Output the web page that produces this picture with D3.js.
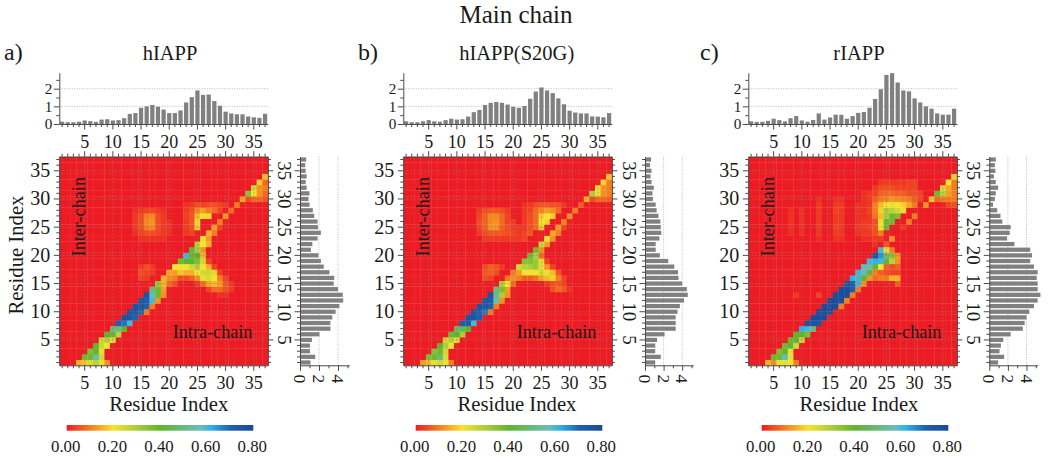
<!DOCTYPE html>
<meta charset="utf-8">
<head>
<script src="https://cdnjs.cloudflare.com/ajax/libs/d3/7.8.5/d3.min.js"></script>
<style type="text/css">
html, body { margin: 0; padding: 0; background: #fff; }
svg { display: block; }
text { font-family: "Liberation Serif", serif; fill: #1a1a1a; }
.tick line, .domain { stroke: #4a4a4a; stroke-width: 1; }
</style>
</head>
<body>
<div id="svg-div"></div>
<script>

var panelNames = ["hIAPP", "hIAPP(S20G)", "rIAPP"];
var panelLetters = ["a)", "b)", "c)"];
var legendTicks = [0, 0.2, 0.4, 0.6, 0.8];
var colorValues = [0, 0.1, 0.2, 0.3, 0.4, 0.5, 0.57, 0.62, 0.7, 0.8];
var colorHexes = ["#ec1c24", "#f47d20", "#f6e32e", "#a9cd3b", "#62b32c", "#6cb87e", "#6dbdb4", "#2fb1e8", "#1f62ac", "#1b4896"];

// bars above each map, residue 1..37
var topA = [.13,.1,.1,.13,.2,.16,.12,.25,.27,.2,.22,.33,.57,.62,.92,1,1.08,.98,.82,.62,.62,.77,1.22,1.52,1.9,1.65,1.67,1.3,1.03,.7,.6,.55,.55,.43,.38,.35,.58];
var topB = [.15,.1,.1,.15,.22,.15,.13,.22,.3,.25,.27,.42,.67,.8,1.08,1.2,1.25,1.2,1.1,.98,.92,1.02,1.43,1.84,2.07,1.9,1.75,1.45,1.12,.75,.65,.6,.6,.43,.42,.38,.62];
var topC = [.15,.12,.13,.18,.3,.22,.15,.33,.45,.2,.13,.23,.6,.25,.37,.53,.52,.3,.45,.63,.68,.92,1.42,1.97,2.78,2.88,2.35,1.9,1.85,1.45,1.22,1,.87,.6,.53,.53,.87];

// bars right of each map, residue 1..37
var sideA = [1.1,1.6,1.05,1.05,1.25,2.05,3.2,3.2,3.4,3.75,4.15,4.55,4.5,4,3.55,3.6,3.1,2.5,2.2,1.95,1.15,1.3,1.85,2.2,1.9,1.85,1.5,1.35,1,.9,1,.7,.6,.7,.6,.55,.65];
var sideB = [1.1,1.7,1.1,1.1,1.3,2.1,3.3,3.3,3.3,3.5,3.75,4.2,4.6,4.5,4,3.6,3.55,3.15,2.5,1.6,1.15,1.15,1.55,1.75,1.7,1.65,1.45,1.25,1.15,.85,.8,.95,.7,.6,.7,.55,.65];
var sideC = [.95,1.6,1.1,1.25,1.5,2.3,3.6,3.8,4,4.3,4.8,5.2,5.5,5.2,5.2,5.1,5.2,4.8,4.4,4.6,4.4,2.7,1.9,2.2,2.3,1.4,1.2,.85,.4,.6,.7,.95,.7,.5,.65,.6,.7];

// map cells as [row, first column, values]; anything not listed stays 0
var cellsA = [
  [1,4,[.15,.17,.24,.28,.22,.12]], [2,5,[.38,.38,.55,.25]], [3,6,[.36,.4,.22]], [4,7,[.4,.25,.2]],
  [5,8,[.25,.28,.22]], [6,9,[.4,.42,.28]], [7,10,[.5,.5,.4]], [8,11,[.7,.68,.6]], [9,12,[.75,.75,.7]],
  [10,13,[.75,.75,.7,.1]], [11,14,[.75,.75,.7,.1]], [12,15,[.75,.72,.6,.12]], [13,16,[.75,.58,.38,.12]],
  [13,29,[.02,.02]], [14,17,[.5,.38,.13]], [14,27,[.04,.08,.08,.05,.03]], [15,18,[.33,.15,.08,.05]],
  [15,25,[.03,.08,.14,.16,.13,.06,.03]], [16,15,[.04,.03]], [16,19,[.15,.12,.1,.05,.05,.07,.12,.22,.24,.2,.1,.04]],
  [17,15,[.05,.04,.03]], [17,20,[.14,.13,.17,.15,.15,.2,.25,.25,.18,.04]], [18,15,[.03,.05,.03]],
  [18,21,[.2,.2,.2,.25,.28,.2,.15,.04]], [19,22,[.38,.4,.4,.35,.25,.04]], [20,23,[.6,.42,.4,.15]],
  [21,24,[.42,.3,.12]], [22,25,[.28,.2,.15]], [23,15,[.02,.02,.02,.02,.02]], [23,26,[.22,.13]],
  [24,14,[.02,.04,.05,.05,.04,.03,.02]], [24,23,[.03,.04]], [24,27,[.15,.1]],
  [25,14,[.03,.05,.1,.11,.05,.03,.02]], [25,23,[.03,.05,.18]], [25,28,[.13,.04]],
  [26,14,[.03,.05,.11,.12,.05,.03,.02]], [26,23,[.03,.06,.19]], [26,29,[.1]],
  [27,14,[.03,.05,.1,.11,.05,.03]], [27,23,[.04,.06,.16,.21,.19]], [27,30,[.13]],
  [28,14,[.02,.03,.04,.04,.03,.02]], [28,23,[.03,.05,.11,.13,.1,.08,.04]], [28,31,[.08]],
  [29,23,[.02,.03,.05,.04,.05,.05,.04,.03]], [29,32,[.1]], [30,33,[.14,.05,.08,.08,.06]],
  [31,34,[.35,.2,.12,.08]], [32,35,[.25,.12,.1]], [33,36,[.18,.08]], [34,37,[.16]]
];
var cellsB = [
  [1,4,[.13,.16,.22,.25,.22,.1]], [2,5,[.36,.38,.5,.24]], [3,6,[.35,.38,.25]], [4,7,[.4,.3,.2]],
  [5,8,[.25,.28,.22]], [6,9,[.38,.4,.3]], [7,10,[.48,.45,.4]], [8,11,[.72,.72,.6]], [9,12,[.75,.75,.7]],
  [10,13,[.75,.72,.68,.1]], [11,14,[.75,.75,.7,.1]], [12,15,[.75,.72,.55,.12]], [13,16,[.75,.52,.3,.12]],
  [14,17,[.5,.36,.13]], [14,27,[.05,.08,.06,.02]], [15,18,[.3,.2,.08]], [15,26,[.03,.05,.06,.04]],
  [16,15,[.05,.04]], [16,19,[.1,.12,.1,.07,.07,.09,.14,.16,.18,.1,.04]], [17,15,[.06,.07,.05]],
  [17,20,[.1,.13,.2,.2,.2,.24,.22,.16,.06]], [18,15,[.05,.07,.06,.03]], [18,21,[.25,.28,.3,.32,.22,.12,.04]],
  [19,22,[.35,.35,.32,.22,.04]], [20,23,[.38,.3,.08]], [21,24,[.38,.12]], [22,25,[.26,.13]],
  [23,15,[.03,.03,.03,.03,.03,.03,.03,.04]], [23,26,[.22,.12]], [24,14,[.03,.05,.06,.06,.06,.05,.04,.03,.04,.06]],
  [24,27,[.14,.1]], [25,14,[.04,.07,.12,.12,.07,.05,.03,.03,.03,.05,.08,.18]], [25,28,[.13,.04]],
  [26,14,[.05,.07,.11,.12,.08,.04,.03]], [26,22,[.03,.05,.08,.2,.18]], [26,29,[.1]],
  [27,14,[.04,.07,.11,.11,.08,.04]], [27,22,[.03,.05,.08,.18,.2,.18]], [27,30,[.12]],
  [28,14,[.03,.05,.06,.06,.05,.03]], [28,22,[.03,.04,.08,.11,.13,.12,.08]], [28,31,[.1]],
  [29,22,[.02,.03,.05,.06,.06,.05,.05,.03]], [29,32,[.07]], [30,33,[.15,.05,.08,.08,.07]],
  [31,34,[.3,.22,.12,.1]], [32,35,[.22,.12,.1]], [33,36,[.18,.1]], [34,37,[.17]]
];
var cellsC = [
  [1,4,[.15,.12,.22,.22,.2,.1]], [2,5,[.38,.38,.58,.22]], [3,6,[.36,.4,.22]], [4,7,[.38,.42,.25]],
  [5,8,[.38,.42,.25]], [6,9,[.4,.4,.36]], [7,10,[.62,.6,.5]], [8,11,[.75,.75,.75]], [9,12,[.78,.78,.78]],
  [10,13,[.78,.78,.78]], [11,14,[.78,.78,.78,.1]], [12,15,[.78,.78,.78,.1]], [13,9,[.03]], [13,13,[.04]],
  [13,16,[.78,.78,.78,.1]], [14,17,[.78,.78,.72,.1]], [15,18,[.75,.72,.6,.12]], [15,27,[.07]],
  [16,19,[.62,.6,.42,.12,.08,.1,.1,.15,.15]], [17,20,[.6,.58,.42,.1,.07,.05,.04,.04]],
  [18,21,[.58,.55,.42,.2,.07,.05,.07]], [19,22,[.6,.62,.6,.42,.28,.12]], [20,23,[.75,.65,.5,.35,.12]],
  [21,24,[.6,.22,.1]], [22,23,[.02]], [22,25,[.06]], [23,13,[.02]], [23,16,[.02,.02]],
  [23,21,[.02,.02,.03,.03]], [23,26,[.12]],
  [24,8,[.02]], [24,10,[.02]], [24,13,[.03]], [24,16,[.03,.03]], [24,20,[.02,.03,.03,.05,.1]],
  [25,8,[.02]], [25,10,[.02]], [25,13,[.03]], [25,16,[.04,.03]], [25,20,[.03,.03,.04,.06,.2,.38]], [25,28,[.03]],
  [26,8,[.02]], [26,10,[.02]], [26,13,[.03]], [26,16,[.03,.03]], [26,20,[.02,.03,.03,.05,.22,.38,.38]], [26,29,[.1]],
  [27,8,[.02]], [27,10,[.02]], [27,13,[.03]], [27,16,[.03,.03]], [27,20,[.02,.02,.03,.09,.16,.3,.38,.36]], [27,30,[.1]],
  [28,8,[.02]], [28,10,[.02]], [28,13,[.03]], [28,16,[.04,.03]], [28,20,[.02,.02,.04,.1,.18,.3,.28,.25,.22]],
  [29,13,[.03]], [29,16,[.03,.03]], [29,20,[.02,.02,.03,.1,.16,.2,.22,.2,.18,.14,.1]], [29,32,[.12]], [29,36,[.04,.05]],
  [30,13,[.02]], [30,16,[.02,.02]], [30,21,[.02,.03,.07,.1,.11,.13,.12,.11,.1,.07,.04]], [30,33,[.17,.08,.1,.1,.1]],
  [31,21,[.02,.03,.04,.07,.08,.08,.07,.07,.05,.05,.04]], [31,34,[.38,.28,.13,.1]],
  [32,23,[.03,.05,.05,.05,.04,.04,.04,.04]], [32,35,[.24,.14,.1]],
  [33,24,[.03,.03,.03,.03,.03,.04,.04]], [33,36,[.2,.1]], [34,37,[.18]]
];

var topValues = [topA, topB, topC];
var sideValues = [sideA, sideB, sideC];
var cellValues = [cellsA, cellsB, cellsC];

// layout, one entry per panel
var heatLeft = [59.3, 403.3, 748.3];
var sideLeft = [300, 645, 989.3];
var sideUnit = [9.5, 9.3, 9.3];
var legendLeft = [66.7, 415.7, 761.7];
var xLabelMid = [168.8, 517, 859];
var titleMid = [170, 516.7, 859];
var letterLeft = [4, 358, 700];

var heatTop = 156.7, heatSize = 208.6, heatBottom = heatTop + heatSize;
var barZero = 124, barUnit = 17.65;

var residues = d3.range(1, 38);

var color = d3.scaleLinear().domain(colorValues).range(colorHexes).clamp(true);

var svg = d3.select("#svg-div").append("svg")
    .attr("width", 1050)
    .attr("height", 462);

var defs = svg.append("defs");
var grad = defs.append("linearGradient").attr("id", "legend-grad");
colorValues.forEach(function(v, i) {
  grad.append("stop").attr("offset", v / 0.8).attr("stop-color", colorHexes[i]);
});

svg.append("text")
    .attr("x", 516).attr("y", 22.7)
    .attr("text-anchor", "middle")
    .style("font-size", "25px")
    .text("Main chain");

svg.append("text")
    .attr("transform", "translate(23,255) rotate(-90)")
    .attr("text-anchor", "middle")
    .style("font-size", "20.7px")
    .text("Residue Index");

panelNames.forEach(function(name, p) { drawPanel(name, p); });

function isMajor(d) { return d % 5 == 0; }

// longer ticks on multiples of five, sign says which way they point
function sizeTicks(axisG, attr, sign) {
  axisG.selectAll(".tick line")
      .attr(attr, function(d) { return sign * (isMajor(d) ? 5.5 : 3); });
}

function drawPanel(name, p) {
  var left = heatLeft[p];

  var x = d3.scaleBand().domain(residues).range([left, left + heatSize]);
  var y = d3.scaleBand().domain(residues).range([heatBottom, heatTop]);

  var cells = [];
  residues.forEach(function(r) {
    residues.forEach(function(c) { cells.push({row: r, col: c, v: 0}); });
  });
  cellValues[p].forEach(function(run) {
    run[2].forEach(function(v, k) {
      cells[(run[0] - 1) * 37 + run[1] - 1 + k].v = v;
    });
  });

  svg.append("text")
      .attr("x", letterLeft[p]).attr("y", 60)
      .style("font-size", "24px")
      .text(panelLetters[p]);

  svg.append("text")
      .attr("x", titleMid[p]).attr("y", 60)
      .attr("text-anchor", "middle")
      .style("font-size", "20.5px")
      .text(name);

  // heat map, the soft filter is there because the cells are not crisp in the original
  svg.append("g")
      .style("filter", "blur(0.5px)")
      .selectAll("rect")
      .data(cells)
      .enter().append("rect")
      .attr("x", function(d) { return x(d.col); })
      .attr("y", function(d) { return y(d.row); })
      .attr("width", x.bandwidth() + 0.3)
      .attr("height", y.bandwidth() + 0.3)
      .attr("fill", function(d) { return color(d.v); });

  var majors = residues.filter(isMajor);
  var mid = x.bandwidth() / 2;

  svg.append("g").selectAll("line")
      .data(majors)
      .enter().append("line")
      .attr("x1", function(d) { return x(d) + mid; })
      .attr("x2", function(d) { return x(d) + mid; })
      .attr("y1", heatTop).attr("y2", heatBottom)
      .attr("stroke", "#9a7a6a").attr("stroke-opacity", 0.7).attr("stroke-dasharray", "1.5,2");
  svg.append("g").selectAll("line")
      .data(majors)
      .enter().append("line")
      .attr("x1", left).attr("x2", left + heatSize)
      .attr("y1", function(d) { return y(d) + mid; })
      .attr("y2", function(d) { return y(d) + mid; })
      .attr("stroke", "#9a7a6a").attr("stroke-opacity", 0.7).attr("stroke-dasharray", "1.5,2");

  // axes on all four sides of the map
  var labelFive = function(d) { return isMajor(d) ? d : ""; };

  var bottomAxis = svg.append("g")
      .attr("transform", "translate(0," + heatBottom + ")")
      .call(d3.axisBottom(x).tickFormat(labelFive).tickSizeOuter(0));
  sizeTicks(bottomAxis, "y2", 1);
  bottomAxis.selectAll("text").attr("y", 24).attr("dy", 0).style("font-size", "18px");

  var topAxis = svg.append("g")
      .attr("transform", "translate(0," + heatTop + ")")
      .call(d3.axisTop(x).tickFormat("").tickSizeOuter(0));
  sizeTicks(topAxis, "y2", -1);

  var leftAxis = svg.append("g")
      .attr("transform", "translate(" + left + ",0)")
      .call(d3.axisLeft(y).tickFormat(labelFive).tickSizeOuter(0));
  sizeTicks(leftAxis, "x2", -1);
  leftAxis.selectAll("text").attr("x", -9).style("font-size", "20px");

  var rightAxis = svg.append("g")
      .attr("transform", "translate(" + (left + heatSize) + ",0)")
      .call(d3.axisRight(y).tickFormat("").tickSizeOuter(0));
  sizeTicks(rightAxis, "x2", 1);

  svg.append("text")
      .attr("transform", "translate(" + (left + 26) + "," + (heatTop + 60) + ") rotate(-90)")
      .attr("text-anchor", "middle")
      .style("font-size", "18.2px")
      .text("Inter-chain");

  svg.append("text")
      .attr("x", left + 113.4).attr("y", 338)
      .style("font-size", "18.2px")
      .text("Intra-chain");

  svg.append("text")
      .attr("x", xLabelMid[p]).attr("y", 411)
      .attr("text-anchor", "middle")
      .style("font-size", "20.7px")
      .text("Residue Index");

  // bars above the map
  var topY = d3.scaleLinear().domain([0, 2.9]).range([barZero, barZero - 2.9 * barUnit]);

  svg.append("g").selectAll("line")
      .data([1, 2])
      .enter().append("line")
      .attr("x1", left).attr("x2", left + heatSize)
      .attr("y1", topY).attr("y2", topY)
      .attr("stroke", "#bbb").attr("stroke-dasharray", "1,1.5");

  svg.append("g").selectAll("rect")
      .data(topValues[p])
      .enter().append("rect")
      .attr("x", function(d, i) { return x(i + 1) + 0.7; })
      .attr("width", x.bandwidth() - 1.4)
      .attr("y", function(d) { return topY(d); })
      .attr("height", function(d) { return barZero - topY(d); })
      .attr("fill", "#808080");

  var topBarX = svg.append("g")
      .attr("transform", "translate(0," + barZero + ")")
      .call(d3.axisBottom(x).tickFormat(labelFive).tickSizeOuter(0));
  sizeTicks(topBarX, "y2", 1);
  topBarX.selectAll("text").attr("y", 24).attr("dy", 0).style("font-size", "18px");

  var topBarY = svg.append("g")
      .attr("transform", "translate(" + left + ",0)")
      .call(d3.axisLeft(topY)
        .tickValues([0, 0.5, 1, 1.5, 2, 2.5])
        .tickFormat(function(d) { return d % 1 == 0 ? d : ""; })
        .tickSizeOuter(0));
  topBarY.selectAll(".tick line").attr("x2", function(d) { return d % 1 == 0 ? -5.5 : -3; });
  topBarY.selectAll("text").attr("x", -7).style("font-size", "15.2px");

  // bars right of the map
  var sideX = d3.scaleLinear().domain([0, 5.2])
      .range([sideLeft[p], sideLeft[p] + 5.2 * sideUnit[p]]);

  svg.append("g").selectAll("line")
      .data([2, 4])
      .enter().append("line")
      .attr("x1", sideX).attr("x2", sideX)
      .attr("y1", heatTop).attr("y2", heatBottom)
      .attr("stroke", "#bbb").attr("stroke-dasharray", "1,1.5");

  svg.append("g").selectAll("rect")
      .data(sideValues[p])
      .enter().append("rect")
      .attr("x", sideLeft[p])
      .attr("y", function(d, i) { return y(i + 1) + 0.7; })
      .attr("height", y.bandwidth() - 1.4)
      .attr("width", function(d) { return sideX(d) - sideLeft[p]; })
      .attr("fill", "#808080");

  var sideAxisY = svg.append("g")
      .attr("transform", "translate(" + sideLeft[p] + ",0)")
      .call(d3.axisLeft(y).tickFormat(labelFive).tickSizeOuter(0));
  sizeTicks(sideAxisY, "x2", -1);
  sideAxisY.selectAll("text")
      .attr("x", null).attr("dy", null)
      .attr("text-anchor", "middle")
      .attr("transform", "translate(-22.5,0) rotate(90)")
      .style("font-size", "19px");

  var sideAxisX = svg.append("g")
      .attr("transform", "translate(0," + heatBottom + ")")
      .call(d3.axisBottom(sideX).tickValues([0, 1, 2, 3, 4, 5])
        .tickFormat(function(d) { return d % 2 == 0 && d < 5 ? d : ""; })
        .tickSizeOuter(0));
  sideAxisX.selectAll(".tick line").attr("y2", function(d) { return d % 2 == 0 ? 5.5 : 3; });
  sideAxisX.selectAll("text")
      .attr("y", null).attr("dy", null)
      .attr("text-anchor", "middle")
      .attr("transform", "translate(-6.5,13.5) rotate(90)")
      .style("font-size", "17.5px");

  // colour legend
  var legendX = d3.scaleLinear().domain([0, 0.8])
      .range([legendLeft[p], legendLeft[p] + 186.6]);

  svg.append("rect")
      .attr("x", legendX(0)).attr("y", 425)
      .attr("width", legendX(0.8) - legendX(0)).attr("height", 5.7)
      .attr("fill", "url(#legend-grad)");

  var legendAxis = svg.append("g")
      .attr("transform", "translate(-1.5,425)")
      .call(d3.axisBottom(legendX).tickValues(legendTicks).tickFormat(d3.format(".2f")).tickSize(0));
  legendAxis.select(".domain").remove();
  legendAxis.selectAll("text").attr("y", 26.7).attr("dy", 0).style("font-size", "16.8px");
}

</script>
</body>
